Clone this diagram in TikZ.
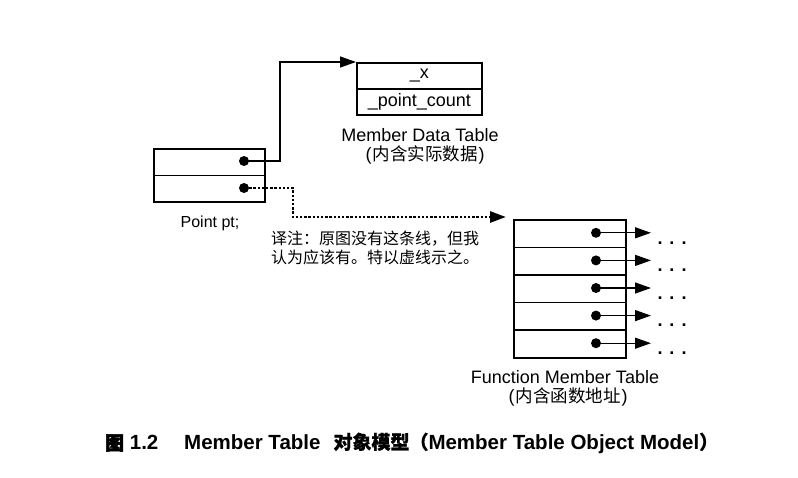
\documentclass[tikz,border=0pt]{standalone}
\usepackage{fontspec}
\setmainfont{Liberation Sans}
\newfontfamily\cjk{Noto Sans CJK SC}
\newfontfamily\cjkbold{Noto Sans CJK SC}[FakeBold=2.5]
\newfontfamily\cjkmed{Noto Sans CJK SC}[FakeBold=0.8]
\usetikzlibrary{arrows.meta}
\begin{document}
\begin{tikzpicture}[x=1pt,y=-1pt,
  cell/.style={draw, line width=1.6pt, inner sep=0pt, anchor=north west, font=\fontsize{18}{20}\selectfont},
  ptr/.style={circle, fill, inner sep=0pt, minimum size=10pt},
  link/.style={line width=1.3pt, -{Triangle[length=16pt,width=11pt]}},
  dotlink/.style={line width=2.8pt, dash pattern=on 2.4pt off 1.8pt, -{Triangle[length=16pt,width=11pt]}},
  lbl/.style={font=\fontsize{18}{20}\selectfont, inner sep=0pt},
  more/.style={font=\bfseries\fontsize{18}{20}\selectfont, inner sep=0pt},
]
\useasboundingbox (0,0) rectangle (798,477);

% Point pt object
\node[cell, minimum width=111pt, minimum height=26.5pt] (pa) at (153,148) {};
\node[cell, minimum width=111pt, minimum height=26.5pt] (pb) at (153,174.5) {};
\node[ptr] (da) at (244,161) {};
\node[ptr] (db) at (244,188) {};
\node[inner sep=0pt, font=\fontsize{16}{18}\selectfont] (ptl) at (210,223) {Point pt;};

% Member data table
\node[cell, minimum width=125pt, minimum height=26pt] (ma) at (356,62) {\_x};
\node[cell, minimum width=125pt, minimum height=26pt] (mb) at (356,88) {\_point\_count};
\node[lbl] (mdt) at (420,135) {Member Data Table};
\node[lbl] (mdtc) at (425,155) {(\hspace{1pt}{\cjk\fontsize{17.5}{20}\selectfont 内含实际数据}\hspace{1pt})};

% links from Point pt
\coordinate (bendA) at (280,62);
\draw[link] (da.center) -| (bendA) -- (ma.north west);
\coordinate (bendB) at (293,217);
\coordinate (tipB) at (506,217);
\draw[dotlink] (db.east) -| (bendB) -- (tipB);

% note
\node[anchor=west, align=left, inner sep=0pt, font=\cjk\fontsize{16}{19}\selectfont] (note) at (271,248)
  {译注：原图没有这条线，但我\\认为应该有。特以虚线示之。};

% Function member table
\foreach \i in {1,...,5} {
  \pgfmathsetmacro\yy{219+27.6*(\i-1)}
  \pgfmathsetmacro\yc{\yy+13.8}
  \pgfmathsetmacro\ye{\yc+10}
  \node[cell, minimum width=112pt, minimum height=27.6pt] (f\i) at (513,\yy) {};
  \node[ptr] (fd\i) at (596,\yc) {};
  \coordinate (ft\i) at (651,\yc);
  \draw[link] (fd\i.center) -- (ft\i);
  \node[more] (fe\i) at (672,\ye) {.\hspace{7pt}.\hspace{7pt}.};
}
\node[lbl] (fmt) at (565,377) {Function Member Table};
\node[lbl] (fmtc) at (568,397) {(\hspace{1pt}{\cjk\fontsize{17.5}{20}\selectfont 内含函数地址}\hspace{1pt})};

% caption
\node[anchor=west, inner sep=0pt, font=\bfseries\fontsize{20.5}{24}\selectfont] (cap1) at (105,443)
  {{\cjkbold\fontsize{19}{24}\selectfont 图} 1.2};
\node[anchor=west, inner sep=0pt, font=\bfseries\fontsize{20.5}{24}\selectfont] (cap2) at (184,443)
  {Member Table\hspace{13pt}{\cjkmed\fontsize{19}{24}\selectfont 对象模型（}Member Table Object Model{\cjkmed\fontsize{19}{24}\selectfont ）}};
\end{tikzpicture}
\end{document}
